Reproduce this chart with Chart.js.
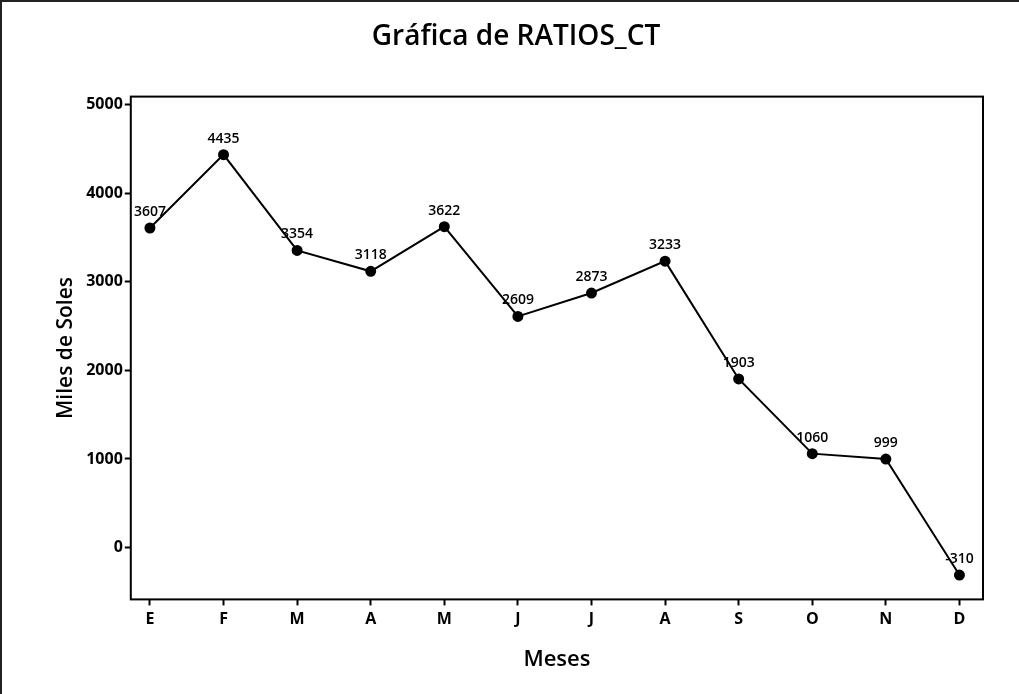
<!DOCTYPE html>
<html>
<head>
<meta charset="utf-8">
<script src="https://cdn.jsdelivr.net/npm/chart.js@4.4.0/dist/chart.umd.min.js"></script>
<style>
  html, body { margin: 0; padding: 0; background: #fff; }
  #wrap { position: relative; width: 1019px; height: 694px; box-sizing: border-box; border-left: 2px solid #222; border-top: 2px solid #222; }
  canvas { display: block; }
</style>
</head>
<body>
<div id="wrap"><canvas id="ratios-chart" width="1017" height="692"></canvas></div>
<script>
// Meses del año (etiquetas del eje X)
const meses = ["E", "F", "M", "A", "M", "J", "J", "A", "S", "O", "N", "D"];
// RATIOS_CT, miles de soles
const ratios = [3607, 4435, 3354, 3118, 3622, 2609, 2873, 3233, 1903, 1060, 999, -310];
// Ticks del eje Y
const yTicks = [0, 1000, 2000, 3000, 4000, 5000];

const FONT = "'Open Sans', 'Noto Sans', sans-serif";

// dibuja el valor encima de cada punto
const pointLabels = {
  id: "pointLabels",
  afterDatasetsDraw(chart) {
    const ctx = chart.ctx;
    const meta = chart.getDatasetMeta(0);
    ctx.save();
    ctx.font = "600 14px " + FONT;
    ctx.fillStyle = "#000";
    ctx.textAlign = "center";
    ctx.textBaseline = "bottom";
    meta.data.forEach((pt, i) => {
      ctx.fillText(String(ratios[i]), pt.x, pt.y - 9);
    });
    ctx.restore();
  },
};

// marco del area de trazado
const plotFrame = {
  id: "plotFrame",
  afterDraw(chart) {
    const { ctx, chartArea: a } = chart;
    ctx.save();
    ctx.strokeStyle = "#000";
    ctx.lineWidth = 2;
    ctx.strokeRect(a.left, a.top, a.right - a.left, a.bottom - a.top);
    ctx.restore();
  },
};

new Chart(document.getElementById("ratios-chart"), {
  type: "line",
  data: {
    datasets: [
      {
        data: ratios.map((v, i) => ({ x: i, y: v })),
        borderColor: "#000",
        borderWidth: 2,
        backgroundColor: "#000",
        pointRadius: 4.5,
        pointBackgroundColor: "#000",
        tension: 0,
      },
    ],
  },
  options: {
    responsive: false,
    animation: false,
    layout: { padding: { left: 47, right: 36, top: 6, bottom: 17 } },
    plugins: {
      legend: { display: false },
      tooltip: { enabled: false },
      title: {
        display: true,
        text: "Gráfica de RATIOS_CT",
        color: "#000",
        font: { family: FONT, size: 28, weight: "600" },
        padding: { top: 12, bottom: 43 },
      },
    },
    scales: {
      x: {
        type: "linear",
        min: -0.26,
        max: 11.32,
        afterBuildTicks(scale) {
          scale.ticks = meses.map((m, i) => ({ value: i }));
        },
        ticks: {
          callback: (v) => meses[v],
          color: "#000",
          font: { family: FONT, size: 16, weight: "bold" },
          padding: 4,
          maxRotation: 0,
          autoSkip: false,
        },
        grid: { display: true, drawOnChartArea: false, drawTicks: true, tickLength: 6, tickColor: "#000", tickWidth: 2 },
        border: { display: false },
        title: {
          display: true,
          text: "Meses",
          color: "#000",
          font: { family: FONT, size: 22, weight: "600" },
          padding: { top: 14 },
        },
      },
      y: {
        min: -585,
        max: 5090,
        afterBuildTicks(scale) {
          scale.ticks = yTicks.map((v) => ({ value: v }));
        },
        ticks: {
          callback: (v) => String(v),
          color: "#000",
          font: { family: FONT, size: 16, weight: "bold" },
          padding: 2,
        },
        grid: { display: true, drawOnChartArea: false, drawTicks: true, tickLength: 6, tickColor: "#000", tickWidth: 2 },
        border: { display: false },
        title: {
          display: true,
          text: "Miles de Soles",
          color: "#000",
          font: { family: FONT, size: 21, weight: "600" },
          padding: { bottom: 6 },
        },
      },
    },
  },
  plugins: [pointLabels, plotFrame],
});
</script>
</body>
</html>
